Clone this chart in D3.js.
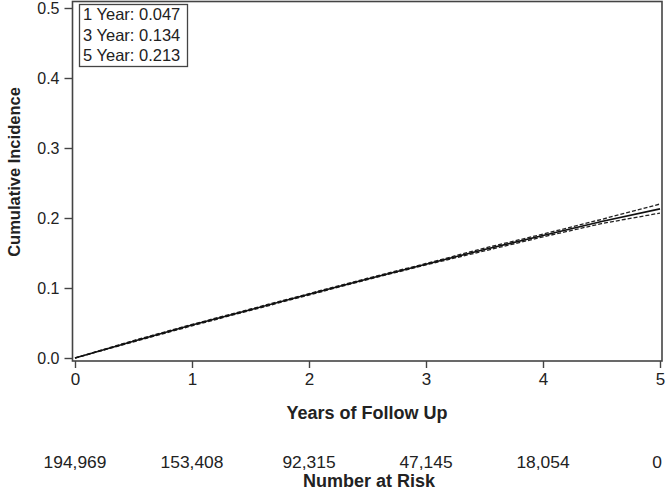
<!DOCTYPE html>
<html>
<head>
<meta charset="utf-8">
<script src="https://cdn.jsdelivr.net/npm/d3@7"></script>
<style>
  body { margin: 0; background: #fff; }
  text { font-family: "Liberation Sans", Arial, sans-serif; fill: #222; }
</style>
</head>
<body>
<svg id="chart"></svg>
<script>
// cumulative incidence estimate and confidence bounds
const years = [0, 0.5, 1, 1.5, 2, 2.5, 3, 3.5, 4, 4.5, 5]
const estimate = [0, 0.024, 0.047, 0.069, 0.091, 0.113, 0.134, 0.155, 0.175, 0.195, 0.213]
const lower = [0, 0.023, 0.046, 0.068, 0.090, 0.112, 0.133, 0.153, 0.173, 0.192, 0.207]
const upper = [0, 0.025, 0.048, 0.070, 0.092, 0.114, 0.135, 0.157, 0.177, 0.198, 0.220]

const xTicks = [0, 1, 2, 3, 4, 5]
const yTicks = [0, 0.1, 0.2, 0.3, 0.4, 0.5]
const atRisk = ['194,969', '153,408', '92,315', '47,145', '18,054', '0']
const legendLines = ['1 Year: 0.047', '3 Year: 0.134', '5 Year: 0.213']

const W = 666, H = 490

const svg = d3.select('#chart')
  .attr('width', W)
  .attr('height', H)

const x = d3.scaleLinear().domain([0, 5]).range([75, 660])
const y = d3.scaleLinear().domain([0, 0.5]).range([358, 8])

// frame
svg.append('rect')
  .attr('x', 72.5).attr('y', 1.5)
  .attr('width', 662 - 72.5).attr('height', 361 - 1.5)
  .attr('fill', 'none')
  .attr('stroke', '#444')
  .attr('stroke-width', 1.6)

// axes
const yAxis = svg.append('g')
  .attr('transform', 'translate(72.5,0)')
  .call(d3.axisLeft(y).tickValues(yTicks).tickFormat(d3.format('.1f')).tickSize(8).tickPadding(5))
yAxis.select('.domain').remove()
yAxis.selectAll('line').attr('stroke', '#444').attr('stroke-width', 1.4)
yAxis.selectAll('text').style('font-size', '16px').attr('fill', '#222')

const xAxis = svg.append('g')
  .attr('transform', 'translate(0,361)')
  .call(d3.axisBottom(x).tickValues(xTicks).tickFormat(d3.format('d')).tickSize(7).tickPadding(5))
xAxis.select('.domain').remove()
xAxis.selectAll('line').attr('stroke', '#444').attr('stroke-width', 1.4)
xAxis.selectAll('text').style('font-size', '17px').attr('fill', '#222')

// lines
const line = d3.line()
  .x((d) => x(d[0]))
  .y((d) => y(d[1]))

svg.append('path')
  .datum(years.map((t, i) => [t, lower[i]]))
  .attr('d', line)
  .attr('fill', 'none')
  .attr('stroke', '#222')
  .attr('stroke-width', 1.3)
  .attr('stroke-dasharray', '4,2')

svg.append('path')
  .datum(years.map((t, i) => [t, upper[i]]))
  .attr('d', line)
  .attr('fill', 'none')
  .attr('stroke', '#222')
  .attr('stroke-width', 1.3)
  .attr('stroke-dasharray', '4,2')

svg.append('path')
  .datum(years.map((t, i) => [t, estimate[i]]))
  .attr('d', line)
  .attr('fill', 'none')
  .attr('stroke', '#111')
  .attr('stroke-width', 1.6)

// legend box
svg.append('rect')
  .attr('x', 79.5).attr('y', 4.5)
  .attr('width', 108).attr('height', 62)
  .attr('fill', '#fff')
  .attr('stroke', '#444')
  .attr('stroke-width', 1.3)

svg.selectAll('.leg')
  .data(legendLines)
  .join('text')
  .attr('class', 'leg')
  .attr('x', 83)
  .attr('y', (d, i) => 20 + i * 20.5)
  .style('font-size', '16.5px')
  .text((d) => d)

// titles
svg.append('text')
  .attr('x', 367).attr('y', 419)
  .attr('text-anchor', 'middle')
  .style('font-size', '18px').style('font-weight', 'bold')
  .text('Years of Follow Up')

svg.append('text')
  .attr('transform', 'translate(20,172) rotate(-90)')
  .attr('text-anchor', 'middle')
  .style('font-size', '16.5px').style('font-weight', 'bold')
  .text('Cumulative Incidence')

// number at risk
svg.selectAll('.risk')
  .data(atRisk)
  .join('text')
  .attr('class', 'risk')
  .attr('x', (d, i) => x(xTicks[i]) - (i === 5 ? 3 : 0))
  .attr('y', 468)
  .attr('text-anchor', 'middle')
  .style('font-size', '17.4px')
  .text((d) => d)

svg.append('text')
  .attr('x', 369).attr('y', 487)
  .attr('text-anchor', 'middle')
  .style('font-size', '18px').style('font-weight', 'bold')
  .text('Number at Risk')
</script>
</body>
</html>
